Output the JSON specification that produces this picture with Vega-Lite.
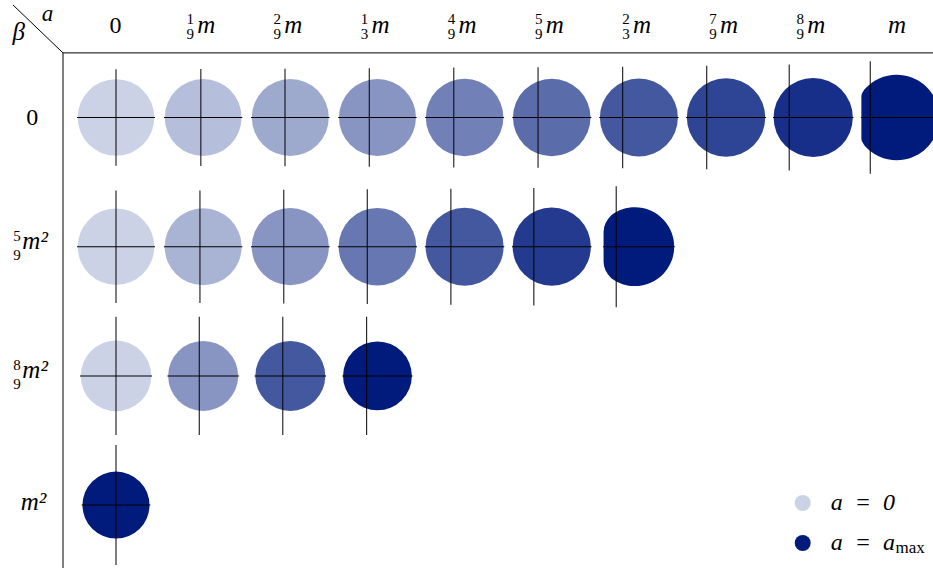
{
  "$schema": "https://vega.github.io/schema/vega-lite/v6.json",
  "width": 870,
  "height": 515,
  "autosize": {"type": "none"},
  "padding": {"left": 63, "top": 53, "right": 0, "bottom": 0},
  "background": "white",
  "config": {"view": {"stroke": null}, "font": "Liberation Serif, DejaVu Serif, serif"},
  "datasets": {
    "cells": [
      {"row": "0", "col": "0", "ratio": 0, "form": "round", "R": 5.196, "hw": 10.58, "x0": 0, "V": 13.12},
      {"row": "0", "col": "1/9", "ratio": 0.1111, "form": "round", "R": 5.21, "hw": 10.61, "x0": -0.312, "V": 13.16},
      {"row": "0", "col": "2/9", "ratio": 0.2222, "form": "round", "R": 5.223, "hw": 10.64, "x0": -0.719, "V": 13.25},
      {"row": "0", "col": "1/3", "ratio": 0.3333, "form": "round", "R": 5.223, "hw": 10.64, "x0": -1.112, "V": 13.39},
      {"row": "0", "col": "4/9", "ratio": 0.4444, "form": "round", "R": 5.264, "hw": 10.72, "x0": -1.465, "V": 13.57},
      {"row": "0", "col": "5/9", "ratio": 0.5556, "form": "round", "R": 5.264, "hw": 10.72, "x0": -1.859, "V": 13.65},
      {"row": "0", "col": "2/3", "ratio": 0.6667, "form": "round", "R": 5.291, "hw": 10.77, "x0": -2.198, "V": 13.78},
      {"row": "0", "col": "7/9", "ratio": 0.7778, "form": "round", "R": 5.318, "hw": 10.83, "x0": -2.618, "V": 14.01},
      {"row": "0", "col": "8/9", "ratio": 0.8889, "form": "round", "R": 5.372, "hw": 10.93, "x0": -3.256, "V": 14.38},
      {"row": "0", "col": "1", "ratio": 1, "form": "D0", "R": 5.786, "hw": 10.72, "x0": -4.084, "V": 15.29},
      {"row": "5/9", "col": "0", "ratio": 0, "form": "round", "R": 5.189, "hw": 10.57, "x0": 0, "V": 15.25},
      {"row": "5/9", "col": "1/9", "ratio": 0.1667, "form": "round", "R": 5.223, "hw": 10.64, "x0": -0.434, "V": 15.25},
      {"row": "5/9", "col": "2/9", "ratio": 0.3333, "form": "round", "R": 5.237, "hw": 10.66, "x0": -0.882, "V": 15.43},
      {"row": "5/9", "col": "1/3", "ratio": 0.5, "form": "round", "R": 5.264, "hw": 10.72, "x0": -1.384, "V": 15.56},
      {"row": "5/9", "col": "4/9", "ratio": 0.6667, "form": "round", "R": 5.291, "hw": 10.77, "x0": -1.859, "V": 15.74},
      {"row": "5/9", "col": "5/9", "ratio": 0.8333, "form": "round", "R": 5.305, "hw": 10.8, "x0": -2.428, "V": 15.95},
      {"row": "5/9", "col": "2/3", "ratio": 1, "form": "D1", "R": 5.338, "hw": 9.73, "x0": -3.08, "V": 16.42},
      {"row": "8/9", "col": "0", "ratio": 0, "form": "round", "R": 4.789, "hw": 9.77, "x0": 0, "V": 16.05},
      {"row": "8/9", "col": "1/9", "ratio": 0.3333, "form": "round", "R": 4.748, "hw": 9.69, "x0": -0.529, "V": 16.05},
      {"row": "8/9", "col": "2/9", "ratio": 0.6667, "form": "round", "R": 4.748, "hw": 9.69, "x0": -1.017, "V": 16.05},
      {"row": "8/9", "col": "1/3", "ratio": 1, "form": "round", "R": 4.667, "hw": 9.52, "x0": -1.465, "V": 16.05},
      {"row": "1", "col": "0", "ratio": 1, "form": "round", "R": 4.545, "hw": 9.32, "x0": 0, "V": 16.28}
    ],
    "heads": [
      {"col": "lab", "row": "head", "ca": "a", "cb": "β"},
      {"col": "0", "row": "head", "up": "0"},
      {"col": "1/9", "row": "head", "num": "1", "den": "9", "it": "m"},
      {"col": "2/9", "row": "head", "num": "2", "den": "9", "it": "m"},
      {"col": "1/3", "row": "head", "num": "1", "den": "3", "it": "m"},
      {"col": "4/9", "row": "head", "num": "4", "den": "9", "it": "m"},
      {"col": "5/9", "row": "head", "num": "5", "den": "9", "it": "m"},
      {"col": "2/3", "row": "head", "num": "2", "den": "3", "it": "m"},
      {"col": "7/9", "row": "head", "num": "7", "den": "9", "it": "m"},
      {"col": "8/9", "row": "head", "num": "8", "den": "9", "it": "m"},
      {"col": "1", "row": "head", "solo": "m"}
    ],
    "rowlabels": [
      {"col": "lab", "row": "0", "up": "0"},
      {"col": "lab", "row": "5/9", "num": "5", "den": "9", "it": "m²"},
      {"col": "lab", "row": "8/9", "num": "8", "den": "9", "it": "m²"},
      {"col": "lab", "row": "1", "solo": "m²"}
    ]
  },
  "resolve": {"scale": {"size": "independent"}},
  "layer": [
    {
      "data": {"name": "cells"},
      "mark": {"type": "point", "filled": true, "opacity": 1, "strokeWidth": 0},
      "encoding": {
        "x": {
          "field": "col", "type": "nominal", "axis": null,
          "scale": {"type": "band", "domain": ["lab", "0", "1/9", "2/9", "1/3", "4/9", "5/9", "2/3", "7/9", "8/9", "1"], "range": [-77.725, 880.925], "paddingInner": 0, "paddingOuter": 0}
        },
        "y": {
          "field": "row", "type": "nominal", "axis": null,
          "scale": {"type": "band", "domain": ["head", "0", "5/9", "8/9", "1"], "range": [-129.3, 516.7], "paddingInner": 0, "paddingOuter": 0}
        },
        "size": {
          "field": "R", "type": "quantitative", "legend": null,
          "scale": {"type": "pow", "exponent": 2, "domain": [0, 6], "range": [0, 7823.76]}
        },
        "shape": {
          "field": "form", "type": "nominal", "legend": null,
          "scale": {
            "domain": ["round", "D0", "D1"],
            "range": [
              "circle",
              "M-0.914,-0.5L-0.914,0.5Q-0.914,0.561,-0.837,0.66A1,1,0,1,0,-0.837,-0.66Q-0.914,-0.561,-0.914,-0.5Z",
              "M-0.898,-0.38L-0.898,0.38Q-0.898,0.605,-0.702,0.8A1,1,0,1,0,-0.702,-0.8Q-0.898,-0.605,-0.898,-0.38Z"
            ]
          }
        },
        "color": {
          "field": "ratio", "type": "quantitative",
          "scale": {"domain": [0, 1], "range": ["#cbd2e6", "#011b7c"], "interpolate": "rgb"},
          "legend": {
            "type": "symbol", "values": [0, 1], "title": null,
            "orient": "none", "legendX": 727.7, "legendY": 438, "direction": "vertical", "padding": 0,
            "labelExpr": "datum.value === 0 ? 'a\u2002=\u20020' : 'a\u2002=\u2002a'",
            "labelFont": "Liberation Serif, DejaVu Serif, serif", "labelFontSize": 24, "labelFontStyle": "italic", "labelColor": "#000",
            "labelOffset": 16, "symbolType": "circle", "symbolSize": 256, "symbolStrokeWidth": 0, "symbolOpacity": 1,
            "rowPadding": 16
          }
        }
      }
    },
    {
      "data": {"name": "cells"},
      "mark": {"type": "tick", "orient": "vertical", "thickness": 1, "opacity": 1, "color": "#000"},
      "encoding": {
        "x": {"field": "col", "type": "nominal", "axis": null},
        "y": {"field": "row", "type": "nominal", "axis": null},
        "xOffset": {"field": "x0", "type": "quantitative", "scale": {"domain": [-5.9117, 5.9117], "nice": false, "zero": false}},
        "size": {"field": "V", "type": "quantitative", "legend": null, "scale": {"type": "linear", "domain": [0, 20], "range": [0, 147.42], "nice": false}}
      }
    },
    {
      "data": {"name": "cells"},
      "mark": {"type": "tick", "orient": "horizontal", "thickness": 1, "opacity": 1, "color": "#000"},
      "encoding": {
        "x": {"field": "col", "type": "nominal", "axis": null},
        "y": {"field": "row", "type": "nominal", "axis": null},
        "size": {"field": "hw", "type": "quantitative", "legend": null, "scale": {"type": "linear", "domain": [0, 20], "range": [0, 147.42], "nice": false}}
      }
    },
    {
      "data": {"values": [{}]},
      "mark": {"type": "rule", "color": "#000", "strokeWidth": 1},
      "encoding": {
        "x": {"datum": "lab", "type": "nominal", "bandPosition": 0.892, "axis": null},
        "x2": {"datum": "1", "bandPosition": 1},
        "y": {"datum": "head", "type": "nominal", "bandPosition": 1, "axis": null}
      }
    },
    {
      "data": {"values": [{}]},
      "mark": {"type": "rule", "color": "#000", "strokeWidth": 1},
      "encoding": {
        "x": {"datum": "lab", "type": "nominal", "bandPosition": 0.892, "axis": null},
        "y": {"datum": "head", "type": "nominal", "bandPosition": 1, "axis": null},
        "y2": {"datum": "1", "bandPosition": 1}
      }
    },
    {
      "data": {"values": [{}]},
      "mark": {"type": "rule", "color": "#000", "strokeWidth": 1},
      "encoding": {
        "x": {"datum": "lab", "type": "nominal", "bandPosition": 0.318, "axis": null},
        "x2": {"datum": "lab", "bandPosition": 0.892},
        "y": {"datum": "head", "type": "nominal", "bandPosition": 0.629, "axis": null},
        "y2": {"datum": "head", "bandPosition": 1}
      }
    },
    {
      "data": {"name": "heads"},
      "transform": [{"filter": "isValid(datum.up)"}],
      "mark": {"type": "text", "font": "Liberation Serif, DejaVu Serif, serif", "fontSize": 24, "align": "center", "baseline": "alphabetic", "dx": -0.5, "color": "#000"},
      "encoding": {
        "x": {"field": "col", "type": "nominal", "axis": null},
        "y": {"field": "row", "type": "nominal", "axis": null, "bandPosition": 0.848},
        "text": {"field": "up"}
      }
    },
    {
      "data": {"name": "heads"},
      "transform": [{"filter": "isValid(datum.num)"}],
      "mark": {"type": "text", "font": "Liberation Serif, DejaVu Serif, serif", "fontSize": 15, "align": "center", "baseline": "alphabetic", "dx": -13, "dy": -9, "color": "#000"},
      "encoding": {
        "x": {"field": "col", "type": "nominal", "axis": null},
        "y": {"field": "row", "type": "nominal", "axis": null, "bandPosition": 0.848},
        "text": {"field": "num"}
      }
    },
    {
      "data": {"name": "heads"},
      "transform": [{"filter": "isValid(datum.den)"}],
      "mark": {"type": "text", "font": "Liberation Serif, DejaVu Serif, serif", "fontSize": 15, "align": "center", "baseline": "alphabetic", "dx": -13, "dy": 6, "color": "#000"},
      "encoding": {
        "x": {"field": "col", "type": "nominal", "axis": null},
        "y": {"field": "row", "type": "nominal", "axis": null, "bandPosition": 0.848},
        "text": {"field": "den"}
      }
    },
    {
      "data": {"name": "heads"},
      "transform": [{"filter": "isValid(datum.it)"}],
      "mark": {"type": "text", "font": "Liberation Serif, DejaVu Serif, serif", "fontSize": 25, "fontStyle": "italic", "align": "left", "baseline": "alphabetic", "dx": -6, "color": "#000"},
      "encoding": {
        "x": {"field": "col", "type": "nominal", "axis": null},
        "y": {"field": "row", "type": "nominal", "axis": null, "bandPosition": 0.848},
        "text": {"field": "it"}
      }
    },
    {
      "data": {"name": "heads"},
      "transform": [{"filter": "isValid(datum.solo)"}],
      "mark": {"type": "text", "font": "Liberation Serif, DejaVu Serif, serif", "fontSize": 25, "fontStyle": "italic", "align": "center", "baseline": "alphabetic", "dx": -3.4, "color": "#000"},
      "encoding": {
        "x": {"field": "col", "type": "nominal", "axis": null},
        "y": {"field": "row", "type": "nominal", "axis": null, "bandPosition": 0.848},
        "text": {"field": "solo"}
      }
    },
    {
      "data": {"name": "heads"},
      "transform": [{"filter": "isValid(datum.ca)"}],
      "mark": {"type": "text", "font": "Liberation Serif, DejaVu Serif, serif", "fontSize": 23, "fontStyle": "italic", "align": "center", "baseline": "alphabetic", "dx": 18.6, "dy": -12.3, "color": "#000"},
      "encoding": {
        "x": {"field": "col", "type": "nominal", "axis": null},
        "y": {"field": "row", "type": "nominal", "axis": null, "bandPosition": 0.848},
        "text": {"field": "ca"}
      }
    },
    {
      "data": {"name": "heads"},
      "transform": [{"filter": "isValid(datum.cb)"}],
      "mark": {"type": "text", "font": "Liberation Serif, DejaVu Serif, serif", "fontSize": 25, "fontStyle": "italic", "align": "center", "baseline": "alphabetic", "dx": -10.2, "dy": 6.7, "color": "#000"},
      "encoding": {
        "x": {"field": "col", "type": "nominal", "axis": null},
        "y": {"field": "row", "type": "nominal", "axis": null, "bandPosition": 0.848},
        "text": {"field": "cb"}
      }
    },
    {
      "data": {"name": "rowlabels"},
      "transform": [{"filter": "isValid(datum.up)"}],
      "mark": {"type": "text", "font": "Liberation Serif, DejaVu Serif, serif", "fontSize": 24, "align": "center", "baseline": "alphabetic", "dx": 3.4, "dy": 3.5, "color": "#000"},
      "encoding": {
        "x": {"field": "col", "type": "nominal", "axis": null},
        "y": {"field": "row", "type": "nominal", "axis": null, "bandPosition": 0.531},
        "text": {"field": "up"}
      }
    },
    {
      "data": {"name": "rowlabels"},
      "transform": [{"filter": "isValid(datum.num)"}],
      "mark": {"type": "text", "font": "Liberation Serif, DejaVu Serif, serif", "fontSize": 15, "align": "center", "baseline": "alphabetic", "dx": -11.9, "dy": -9.5, "color": "#000"},
      "encoding": {
        "x": {"field": "col", "type": "nominal", "axis": null},
        "y": {"field": "row", "type": "nominal", "axis": null, "bandPosition": 0.531},
        "text": {"field": "num"}
      }
    },
    {
      "data": {"name": "rowlabels"},
      "transform": [{"filter": "isValid(datum.den)"}],
      "mark": {"type": "text", "font": "Liberation Serif, DejaVu Serif, serif", "fontSize": 15, "align": "center", "baseline": "alphabetic", "dx": -11.9, "dy": 9.5, "color": "#000"},
      "encoding": {
        "x": {"field": "col", "type": "nominal", "axis": null},
        "y": {"field": "row", "type": "nominal", "axis": null, "bandPosition": 0.531},
        "text": {"field": "den"}
      }
    },
    {
      "data": {"name": "rowlabels"},
      "transform": [{"filter": "isValid(datum.it)"}],
      "mark": {"type": "text", "font": "Liberation Serif, DejaVu Serif, serif", "fontSize": 25, "fontStyle": "italic", "align": "left", "baseline": "alphabetic", "dx": -6.5, "dy": -1.5, "color": "#000"},
      "encoding": {
        "x": {"field": "col", "type": "nominal", "axis": null},
        "y": {"field": "row", "type": "nominal", "axis": null, "bandPosition": 0.531},
        "text": {"field": "it"}
      }
    },
    {
      "data": {"name": "rowlabels"},
      "transform": [{"filter": "isValid(datum.solo)"}],
      "mark": {"type": "text", "font": "Liberation Serif, DejaVu Serif, serif", "fontSize": 25, "fontStyle": "italic", "align": "left", "baseline": "alphabetic", "dx": -8.2, "dy": 1, "color": "#000"},
      "encoding": {
        "x": {"field": "col", "type": "nominal", "axis": null},
        "y": {"field": "row", "type": "nominal", "axis": null, "bandPosition": 0.531},
        "text": {"field": "solo"}
      }
    },
    {
      "data": {"values": [{}]},
      "mark": {"type": "text", "font": "Liberation Serif, DejaVu Serif, serif", "fontSize": 17, "align": "left", "baseline": "alphabetic", "dx": -4.85, "color": "#000"},
      "encoding": {
        "x": {"datum": "1", "type": "nominal", "axis": null},
        "y": {"datum": "1", "type": "nominal", "bandPosition": 0.867, "axis": null},
        "text": {"value": "max"}
      }
    }
  ]
}
